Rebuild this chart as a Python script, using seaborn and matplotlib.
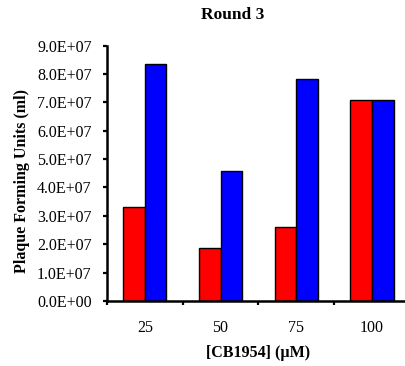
import matplotlib
matplotlib.use("Agg")
import matplotlib.pyplot as plt
from matplotlib.ticker import FixedLocator, FuncFormatter
import seaborn as sns
import pandas as pd

# Concentrations of CB1954 (uM) and plaque counts for the two series
concentrations = ["25", "50", "75", "100"]
series_1 = [3.3e7, 1.88e7, 2.59e7, 7.08e7]
series_2 = [8.35e7, 4.58e7, 7.84e7, 7.08e7]
y_ticks = [0, 1e7, 2e7, 3e7, 4e7, 5e7, 6e7, 7e7, 8e7, 9e7]

df = pd.DataFrame({
    "conc": concentrations * 2,
    "pfu": series_1 + series_2,
    "series": ["Series 1"] * 4 + ["Series 2"] * 4,
})

sns.set_theme(style="white")
plt.rcParams["font.family"] = ["Liberation Serif", "DejaVu Serif"]

fig = plt.figure(figsize=(4.05, 3.66), dpi=100)
ax = fig.add_axes([0.264, 0.178, 0.748, 0.697])

sns.barplot(data=df, x="conc", y="pfu", hue="series", order=concentrations,
            palette=["#FF0000", "#0000FF"], width=0.57, edgecolor="black",
            linewidth=1.0, saturation=1, legend=False, ax=ax)

ax.set_xlim(-0.5, 3.5)
ax.set_ylim(0, 9e7)

# y axis: scientific labels with outward ticks
ax.yaxis.set_major_locator(FixedLocator(y_ticks))
ax.yaxis.set_major_formatter(FuncFormatter(lambda v, p: f"{v:.1E}"))
ax.tick_params(axis="y", which="major", direction="out", length=3, width=1.6,
               pad=8, labelsize=11.5, colors="black", left=True)

# x axis: labels at category centres, tick marks on the boundaries
ax.set_xticks(range(len(concentrations)))
ax.set_xticklabels(concentrations)
ax.set_xticks([-0.5, 0.5, 1.5, 2.5, 3.5], minor=True)
ax.tick_params(axis="x", which="major", length=0, pad=14, labelsize=11.5,
               colors="black")
ax.tick_params(axis="x", which="minor", direction="out", length=3, width=1.6,
               bottom=True, colors="black")

for side in ("top", "right"):
    ax.spines[side].set_visible(False)
for side in ("left", "bottom"):
    ax.spines[side].set_color("black")
    ax.spines[side].set_linewidth(1.8)

ax.set_xlabel("[CB1954] (\u00b5M)", fontsize=11.5, fontweight="bold",
              labelpad=6, color="black")
ax.set_ylabel("Plaque Forming Units (ml)", fontsize=11.5, fontweight="bold",
              color="black")
ax.yaxis.set_label_coords(-0.255, 0.47)
ax.set_title("Round 3", fontsize=12.5, fontweight="bold", x=0.416, pad=19,
             color="black")

fig.savefig("out.png", dpi=100, facecolor="white")
